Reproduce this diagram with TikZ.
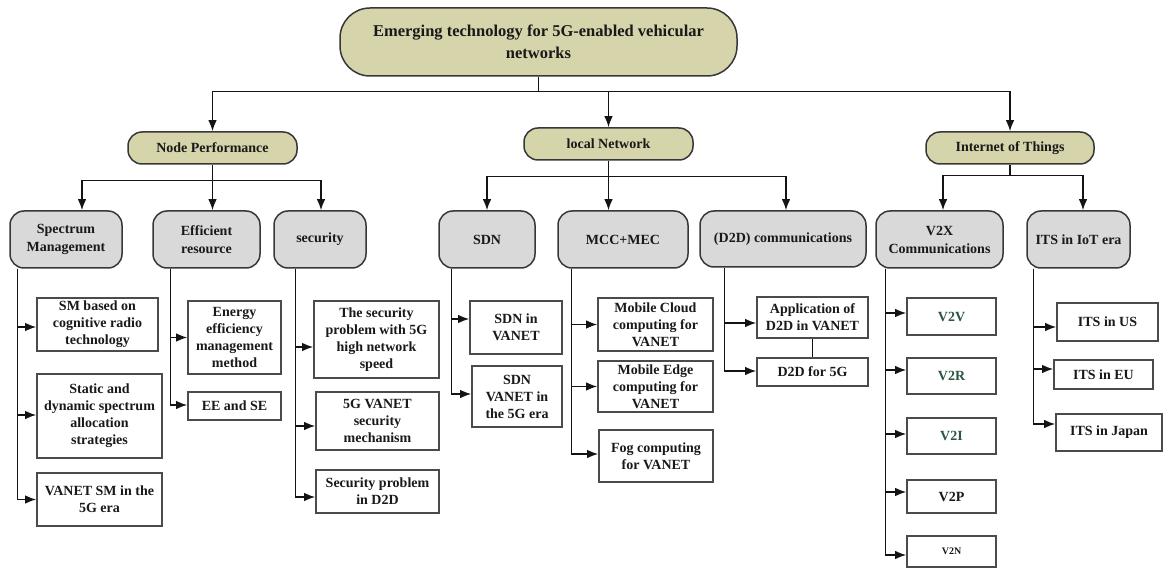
\documentclass[tikz,border=0pt]{standalone}
\usepackage{fontspec}
\setmainfont{Liberation Serif}
\usetikzlibrary{arrows.meta}
\definecolor{olivefill}{RGB}{214,212,170}
\definecolor{grayfill}{RGB}{217,217,217}
\definecolor{bord}{RGB}{55,55,55}
\definecolor{leafbord}{RGB}{75,75,75}
\definecolor{txt}{RGB}{25,25,25}
\definecolor{greentxt}{RGB}{45,85,65}
\definecolor{linec}{RGB}{20,20,20}
\newcommand\brarrow[3]{\path ([yshift=#3]#2.west) coordinate (tmpc); \draw[arr] (#1) |- (tmpc);}
\begin{document}
\begin{tikzpicture}[x=1pt,y=-1pt,
  font=\bfseries\fontsize{14}{17}\selectfont,
  base/.style={inner sep=0pt, align=center, text=txt},
  rootbox/.style={base, draw=bord, line width=1.5pt, fill=olivefill, rounded corners=30pt,
    minimum width=397pt, minimum height=68pt, font=\bfseries\fontsize{16.5}{22}\selectfont},
  catbox/.style={base, draw=bord, line width=1.5pt, fill=olivefill, rounded corners=14pt,
    minimum width=169pt, minimum height=32pt},
  subbox/.style={base, draw=bord, line width=1.5pt, fill=grayfill, rounded corners=14pt,
    minimum height=57pt, font=\bfseries\fontsize{14}{18}\selectfont},
  leaf/.style={base, draw=leafbord, line width=1.6pt, fill=white},
  conn/.style={draw=linec, line width=1.5pt},
  arr/.style={conn, -{Latex[length=11pt,width=8.5pt]}}
]
\useasboundingbox (0,0) rectangle (1164,569);

% root and categories
\node[rootbox] (root) at (538.5,42) {Emerging technology for 5G-enabled vehicular\\networks};
\node[catbox] (np) at (212.5,148) {Node Performance};
\node[catbox] (ln) at (608.5,144) {local Network};
\node[catbox, minimum width=168pt] (iot) at (1010,148) {Internet of Things};

% second level
\node[subbox, minimum width=112pt] (sm) at (66,239.5) {Spectrum\\Management};
\node[subbox, minimum width=107pt] (er) at (206.5,239.5) {Efficient\\resource};
\node[subbox, minimum width=92pt] (sec) at (320,239.5) {security};
\node[subbox, minimum width=96pt] (sdn) at (487,239.5) {SDN};
\node[subbox, minimum width=130pt] (mcc) at (623,239.5) {MCC+MEC};
\node[subbox, minimum width=166pt, minimum height=56pt] (d2d) at (783,239) {(D2D) communications};
\node[subbox, minimum width=127pt] (v2x) at (939.5,239.5) {V2X\\Communications};
\node[subbox, minimum width=103pt] (its) at (1078.5,239.5) {ITS in IoT era};

% leaves
\node[leaf, minimum width=121pt, minimum height=53pt] (sm1) at (97.5,324.5) {SM based on\\cognitive radio\\technology};
\node[leaf, minimum width=125pt, minimum height=84pt] (sm2) at (99.5,416) {Static and\\dynamic spectrum\\allocation\\strategies};
\node[leaf, minimum width=125pt, minimum height=53pt] (sm3) at (99.5,499.5) {VANET SM in the\\5G era};
\node[leaf, minimum width=93pt, minimum height=73pt] (er1) at (234.5,337.5) {Energy\\efficiency\\management\\method};
\node[leaf, minimum width=93pt, minimum height=28pt] (er2) at (234.5,406) {EE and SE};
\node[leaf, minimum width=125pt, minimum height=77pt] (sec1) at (376.5,339.5) {The security\\problem with 5G\\high network\\speed};
\node[leaf, minimum width=123pt, minimum height=58pt] (sec2) at (377.5,421) {5G VANET\\security\\mechanism};
\node[leaf, minimum width=123pt, minimum height=43pt] (sec3) at (377.5,491.5) {Security problem\\in D2D};
\node[leaf, minimum width=92pt, minimum height=53pt] (sdn1) at (516,327.5) {SDN in\\VANET};
\node[leaf, minimum width=90pt, minimum height=61pt] (sdn2) at (517,396.5) {SDN\\VANET in\\the 5G era};
\node[leaf, minimum width=115pt, minimum height=53pt] (mcc1) at (655.5,324.5) {Mobile Cloud\\computing for\\VANET};
\node[leaf, minimum width=115pt, minimum height=51pt] (mcc2) at (655.5,386.5) {Mobile Edge\\computing for\\VANET};
\node[leaf, minimum width=114pt, minimum height=52pt] (mcc3) at (656,456) {Fog computing\\for VANET};
\node[leaf, minimum width=111pt, minimum height=41pt] (d2d1) at (812.5,317.5) {Application of\\D2D in VANET};
\node[leaf, minimum width=111pt, minimum height=28pt] (d2d2) at (812.5,372) {D2D for 5G};
\node[leaf, minimum width=89pt, minimum height=37pt, text=greentxt] (v1) at (951.5,316.5) {V2V};
\node[leaf, minimum width=89pt, minimum height=36pt, text=greentxt] (v2) at (951.5,376) {V2R};
\node[leaf, minimum width=89pt, minimum height=36pt, text=greentxt] (v3) at (951.5,436) {V2I};
\node[leaf, minimum width=89pt, minimum height=33pt] (v4) at (951.5,496.5) {V2P};
\node[leaf, minimum width=89pt, minimum height=31pt, font=\bfseries\fontsize{10}{12}\selectfont] (v5) at (951.5,551.5) {V2N};
\node[leaf, minimum width=101pt, minimum height=38pt] (its1) at (1107.5,322) {ITS in US};
\node[leaf, minimum width=99pt, minimum height=29pt] (its2) at (1103.5,374.5) {ITS in EU};
\node[leaf, minimum width=106pt, minimum height=37pt] (its3) at (1109,432.5) {ITS in Japan};

% root connectors
\coordinate (rB) at ([yshift=-15pt]root.south);
\draw[conn] (root.south) -- (rB);
\draw[arr] (rB) -| (np.north);
\draw[arr] (rB) -| (ln.north);
\draw[arr] (rB) -| (iot.north);

% node performance
\coordinate (npB) at ([yshift=-16pt]np.south);
\draw[arr] (np.south) -- (np.south |- er.north);
\draw[arr] (npB) -| ([xshift=16pt]sm.north);
\draw[arr] (npB) -| ([xshift=1pt]sec.north);

% local network
\coordinate (lnB) at ([yshift=-16pt]ln.south);
\draw[arr] (ln.south) -- (ln.south |- mcc.north);
\draw[arr] (lnB) -| (sdn.north);
\draw[arr] (lnB) -| ([xshift=3pt]d2d.north);

% internet of things
\coordinate (iotB) at ([yshift=-11pt]iot.south);
\draw[conn] (iot.south) -- (iotB);
\draw[arr] (iotB) -| ([xshift=3.5pt]v2x.north);
\draw[arr] (iotB) -| ([xshift=4.5pt]its.north);

% trunks
\coordinate (smT) at ([xshift=8pt]sm.south west);
\coordinate (erT) at ([xshift=18pt]er.south west);
\coordinate (secT) at ([xshift=22pt]sec.south west);
\coordinate (sdnT) at ([xshift=13pt]sdn.south west);
\coordinate (mccT) at ([xshift=14pt]mcc.south west);
\coordinate (d2dT) at ([xshift=25pt]d2d.south west);
\coordinate (v2xT) at ([xshift=10pt]v2x.south west);
\coordinate (itsT) at ([xshift=7pt]its.south west);

\brarrow{smT}{sm1}{-2.5pt}
\brarrow{smT}{sm2}{1pt}
\brarrow{smT}{sm3}{0pt}
\brarrow{erT}{er1}{0pt}
\brarrow{erT}{er2}{1pt}
\brarrow{secT}{sec1}{-7.5pt}
\brarrow{secT}{sec2}{-5pt}
\brarrow{secT}{sec3}{-5.5pt}
\brarrow{sdnT}{sdn1}{8.5pt}
\brarrow{sdnT}{sdn2}{2.5pt}
\brarrow{mccT}{mcc1}{0pt}
\brarrow{mccT}{mcc2}{0pt}
\brarrow{mccT}{mcc3}{2pt}
\brarrow{d2dT}{d2d1}{-5.5pt}
\brarrow{d2dT}{d2d2}{1pt}
\brarrow{v2xT}{v1}{3.5pt}
\brarrow{v2xT}{v2}{6pt}
\brarrow{v2xT}{v3}{2pt}
\brarrow{v2xT}{v4}{4.5pt}
\brarrow{v2xT}{v5}{-3.5pt}
\brarrow{itsT}{its1}{-5pt}
\brarrow{itsT}{its2}{5.5pt}
\brarrow{itsT}{its3}{8.5pt}

\draw[conn] (d2d1.south) -- (d2d2.north);
\end{tikzpicture}
\end{document}
